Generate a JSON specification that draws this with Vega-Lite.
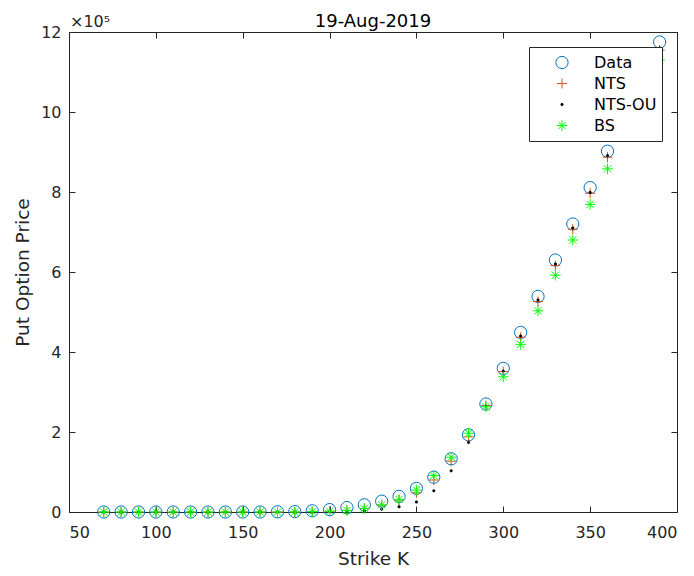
{
  "$schema": "https://vega.github.io/schema/vega-lite/v6.json",
  "width": 608,
  "height": 480,
  "autosize": {"type": "none"},
  "padding": {"left": 69, "top": 32, "right": 17, "bottom": 64},
  "background": "white",
  "config": {
    "font": "DejaVu Sans",
    "view": {"stroke": "#262626", "strokeWidth": 1},
    "axis": {"grid": false, "domain": false, "tickColor": "#262626", "labelColor": "#262626", "titleColor": "#262626", "labelFont": "DejaVu Sans", "titleFont": "DejaVu Sans", "labelFontSize": 16, "titleFontSize": 18.5, "titleFontWeight": "normal", "tickSize": -6, "tickWidth": 1},
    "legend": {"orient": "top-right", "offset": 15, "fillColor": "white", "strokeColor": "#262626", "strokeWidth": 1, "padding": 5, "labelFont": "DejaVu Sans", "labelFontSize": 16, "labelColor": "#000000", "symbolStrokeWidth": 1, "clipHeight": 21, "rowPadding": 0, "symbolOffset": 20, "labelOffset": 24}
  },
  "title": {"text": "19-Aug-2019", "fontSize": 18, "fontWeight": "normal", "color": "#000000", "font": "DejaVu Sans", "baseline": "alphabetic", "frame": "group", "offset": 7, "dy": 38},
  "data": {"values": [
    {"K": 70, "Data": 0, "NTS": 0, "NTS-OU": 0, "BS": 0},
    {"K": 80, "Data": 0, "NTS": 0, "NTS-OU": 0, "BS": 0},
    {"K": 90, "Data": 0, "NTS": 0, "NTS-OU": 0, "BS": 0},
    {"K": 100, "Data": 0, "NTS": 0, "NTS-OU": 0, "BS": 0},
    {"K": 110, "Data": 0, "NTS": 0, "NTS-OU": 0, "BS": 0},
    {"K": 120, "Data": 0, "NTS": 0, "NTS-OU": 0, "BS": 0},
    {"K": 130, "Data": 0, "NTS": 0, "NTS-OU": 0, "BS": 0},
    {"K": 140, "Data": 0, "NTS": 0, "NTS-OU": 0, "BS": 0},
    {"K": 150, "Data": 0, "NTS": 0, "NTS-OU": 0, "BS": 0},
    {"K": 160, "Data": 0, "NTS": 0, "NTS-OU": 0, "BS": 0},
    {"K": 170, "Data": 0.005, "NTS": 0, "NTS-OU": 0, "BS": 0},
    {"K": 180, "Data": 0.01, "NTS": 0, "NTS-OU": 0, "BS": 0},
    {"K": 190, "Data": 0.03, "NTS": 0.01, "NTS-OU": 0, "BS": 0.01},
    {"K": 200, "Data": 0.06, "NTS": 0.02, "NTS-OU": 0, "BS": 0.02},
    {"K": 210, "Data": 0.11, "NTS": 0.04, "NTS-OU": 0.01, "BS": 0.04},
    {"K": 220, "Data": 0.18, "NTS": 0.09, "NTS-OU": 0.03, "BS": 0.09},
    {"K": 230, "Data": 0.27, "NTS": 0.17, "NTS-OU": 0.07, "BS": 0.18},
    {"K": 240, "Data": 0.39, "NTS": 0.3, "NTS-OU": 0.13, "BS": 0.31},
    {"K": 250, "Data": 0.59, "NTS": 0.48, "NTS-OU": 0.25, "BS": 0.55},
    {"K": 260, "Data": 0.87, "NTS": 0.8, "NTS-OU": 0.53, "BS": 0.91},
    {"K": 270, "Data": 1.33, "NTS": 1.27, "NTS-OU": 1.03, "BS": 1.37},
    {"K": 280, "Data": 1.93, "NTS": 1.88, "NTS-OU": 1.74, "BS": 1.97},
    {"K": 290, "Data": 2.7, "NTS": 2.66, "NTS-OU": 2.65, "BS": 2.63},
    {"K": 300, "Data": 3.59, "NTS": 3.51, "NTS-OU": 3.52, "BS": 3.38},
    {"K": 310, "Data": 4.49, "NTS": 4.37, "NTS-OU": 4.4, "BS": 4.19},
    {"K": 320, "Data": 5.39, "NTS": 5.26, "NTS-OU": 5.3, "BS": 5.03},
    {"K": 330, "Data": 6.3, "NTS": 6.16, "NTS-OU": 6.2, "BS": 5.92},
    {"K": 340, "Data": 7.2, "NTS": 7.07, "NTS-OU": 7.1, "BS": 6.8},
    {"K": 350, "Data": 8.11, "NTS": 7.97, "NTS-OU": 7.99, "BS": 7.69},
    {"K": 360, "Data": 9.02, "NTS": 8.87, "NTS-OU": 8.91, "BS": 8.58},
    {"K": 370, "Data": 9.95, "NTS": 9.78, "NTS-OU": 9.8, "BS": 9.5},
    {"K": 380, "Data": 10.85, "NTS": 10.67, "NTS-OU": 10.7, "BS": 10.4},
    {"K": 390, "Data": 11.75, "NTS": 11.55, "NTS-OU": 11.6, "BS": 11.3}
  ]},
  "layer": [
    {
      "transform": [{"fold": ["Data", "NTS", "NTS-OU", "BS"], "as": ["series", "price"]}],
      "mark": {"type": "point", "strokeWidth": 1, "opacity": 1},
      "encoding": {
        "x": {"field": "K", "type": "quantitative", "scale": {"domain": [50, 400], "nice": false}, "axis": {"orient": "bottom", "values": [50, 100, 150, 200, 250, 300, 350, 400], "title": "Strike K", "labelPadding": 18, "titlePadding": 9}},
        "y": {"field": "price", "type": "quantitative", "scale": {"domain": [0, 12], "nice": false}, "axis": {"orient": "left", "values": [0, 2, 4, 6, 8, 10, 12], "title": "Put Option Price", "labelPadding": 14, "titlePadding": 8}},
        "shape": {"field": "series", "type": "nominal", "scale": {"domain": ["Data", "NTS", "NTS-OU", "BS"], "range": ["circle", "M-1,0L1,0M0,-1L0,1", "circle", "M-1,0L1,0M0,-1L0,1M-0.7,-0.7L0.7,0.7M-0.7,0.7L0.7,-0.7"]}, "legend": {"title": null}},
        "stroke": {"field": "series", "type": "nominal", "scale": {"domain": ["Data", "NTS", "NTS-OU", "BS"], "range": ["#0072BD", "#D95319", "#000000", "#00FF00"]}, "legend": {"title": null}},
        "fill": {"field": "series", "type": "nominal", "scale": {"domain": ["Data", "NTS", "NTS-OU", "BS"], "range": ["transparent", "transparent", "#000000", "transparent"]}, "legend": {"title": null}},
        "size": {"field": "series", "type": "nominal", "scale": {"type": "ordinal", "domain": ["Data", "NTS", "NTS-OU", "BS"], "range": [150, 100, 5, 110]}, "legend": {"title": null}}
      }
    },
    {
      "data": {"values": [{"label": "×10⁵"}]},
      "mark": {"type": "text", "align": "left", "baseline": "alphabetic", "dx": 1, "dy": -5, "fontSize": 16, "color": "#262626", "font": "DejaVu Sans"},
      "encoding": {
        "x": {"datum": 50, "type": "quantitative", "axis": null},
        "y": {"datum": 12, "type": "quantitative", "axis": null},
        "text": {"field": "label", "type": "nominal"}
      }
    },
    {
      "data": {"values": [{"label": "frame"}]},
      "mark": {"type": "rule", "opacity": 0},
      "encoding": {
        "x": {"datum": 50, "type": "quantitative", "axis": {"orient": "top", "values": [50, 100, 150, 200, 250, 300, 350, 400], "labels": false, "title": null}},
        "y": {"datum": 0, "type": "quantitative", "axis": {"orient": "right", "values": [0, 2, 4, 6, 8, 10, 12], "labels": false, "title": null}}
      }
    }
  ],
  "resolve": {"axis": {"x": "independent", "y": "independent"}}
}
